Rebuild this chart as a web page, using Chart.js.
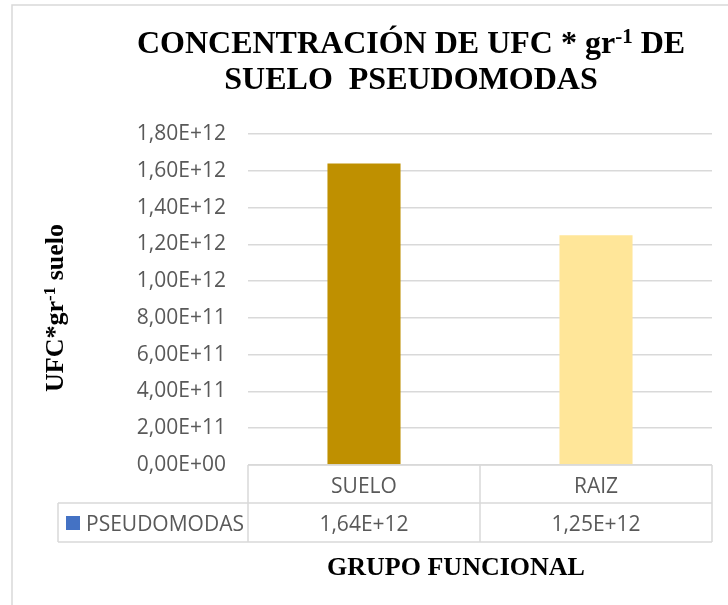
<!DOCTYPE html>
<html>
<head>
<meta charset="utf-8">
<script src="https://cdn.jsdelivr.net/npm/chart.js@4/dist/chart.umd.min.js"></script>
<style>
  html, body { margin: 0; padding: 0; background: #ffffff; }
  #wrap { width: 728px; height: 605px; position: relative; }
</style>
</head>
<body>
<div id="wrap"><canvas id="c" width="728" height="605"></canvas></div>
<script>
// ---- data ----
const categories = ['SUELO', 'RAIZ'];
const seriesName = 'PSEUDOMODAS';
const values = [1.64e12, 1.25e12];
const barColors = ['#BF9000', '#FFE699'];
const legendColor = '#4472C4';
const yMin = 0;
const yMax = 1.8e12;
const yStep = 0.2e12;
const titleLine1 = [{ t: 'CONCENTRACIÓN DE UFC * gr' }, { t: '-1', sup: true }, { t: ' DE' }];
const titleLine2 = [{ t: 'SUELO  PSEUDOMODAS' }];
const yTitle = [{ t: 'UFC*gr' }, { t: '-1', sup: true }, { t: ' suelo' }];
const xTitle = 'GRUPO FUNCIONAL';

// ---- helpers ----
function sci(v) {
  if (Math.abs(v) < 1e-9) return '0,00E+00';
  let exp = Math.floor(Math.log10(Math.abs(v)) + 1e-9);
  let mant = v / Math.pow(10, exp);
  let m = mant.toFixed(2);
  if (parseFloat(m) >= 10) { exp += 1; m = (v / Math.pow(10, exp)).toFixed(2); }
  const es = (exp < 10 ? '0' : '') + exp;
  return m.replace('.', ',') + 'E+' + es;
}

const SERIF = "'Liberation Serif', 'Times New Roman', serif";
const SANS = "'Open Sans', 'DejaVu Sans', sans-serif";
const GRAY = '#595959';
const LINE = '#d9d9d9';
const TXT = 21;

function richWidth(ctx, parts, size) {
  let w = 0;
  parts.forEach(p => {
    ctx.font = 'bold ' + (p.sup ? Math.round(size * 0.65) : size) + 'px ' + SERIF;
    w += ctx.measureText(p.t).width;
  });
  return w;
}
function drawRich(ctx, parts, cx, baseline, size) {
  const w = richWidth(ctx, parts, size);
  let x = cx - w / 2;
  ctx.textAlign = 'left';
  ctx.textBaseline = 'alphabetic';
  parts.forEach(p => {
    const s = p.sup ? Math.round(size * 0.65) : size;
    ctx.font = 'bold ' + s + 'px ' + SERIF;
    ctx.fillText(p.t, x, p.sup ? baseline - size * 0.3 : baseline);
    x += ctx.measureText(p.t).width;
  });
}

const decor = {
  id: 'decor',
  beforeDraw(chart) {
    const ctx = chart.ctx;
    ctx.save();
    ctx.fillStyle = '#ffffff';
    ctx.fillRect(0, 0, chart.width, chart.height);
    ctx.strokeStyle = LINE;
    ctx.lineWidth = 1.5;
    ctx.strokeRect(12, 5, 900, 800);
    ctx.restore();
  },
  afterDraw(chart) {
    const ctx = chart.ctx;
    const area = chart.chartArea;
    const xs = chart.scales.x;
    ctx.save();
    ctx.fillStyle = '#000000';
    // title
    drawRich(ctx, titleLine1, 411, 53, 32);
    drawRich(ctx, titleLine2, 411, 89, 32);
    // x title
    ctx.font = 'bold 26px ' + SERIF;
    ctx.textAlign = 'center';
    ctx.textBaseline = 'alphabetic';
    ctx.fillText(xTitle, 456, 575);
    // y title
    ctx.save();
    ctx.translate(63, 308);
    ctx.rotate(-Math.PI / 2);
    drawRich(ctx, yTitle, 0, 0, 26);
    ctx.restore();

    // data table
    const n = categories.length;
    const catW = (area.right - area.left) / n;
    const centers = categories.map((c, i) => {
      const p = xs && isFinite(xs.getPixelForValue(i)) ? xs.getPixelForValue(i) : area.left + catW * (i + 0.5);
      return p;
    });
    const bounds = [area.left];
    for (let i = 0; i < n; i++) bounds.push(centers[i] + catW / 2);
    const rowTop = area.bottom;
    const rowMid = rowTop + 38;
    const rowBot = rowMid + 39;
    const legLeft = 58;
    ctx.strokeStyle = LINE;
    ctx.lineWidth = 1.5;
    ctx.beginPath();
    ctx.moveTo(area.left, rowTop); ctx.lineTo(bounds[n], rowTop);
    ctx.moveTo(legLeft, rowMid); ctx.lineTo(bounds[n], rowMid);
    ctx.moveTo(legLeft, rowBot); ctx.lineTo(bounds[n], rowBot);
    bounds.forEach(b => { ctx.moveTo(b, rowTop); ctx.lineTo(b, rowBot); });
    ctx.moveTo(legLeft, rowMid); ctx.lineTo(legLeft, rowBot);
    ctx.stroke();

    ctx.fillStyle = GRAY;
    ctx.font = TXT + 'px ' + SANS;
    ctx.textAlign = 'center';
    ctx.textBaseline = 'alphabetic';
    categories.forEach((c, i) => ctx.fillText(c, centers[i], rowTop + 28));
    values.forEach((v, i) => ctx.fillText(sci(v), centers[i], rowMid + 28));
    // legend key
    ctx.fillStyle = legendColor;
    ctx.fillRect(66, rowMid + 13, 14, 14);
    ctx.fillStyle = GRAY;
    ctx.textAlign = 'left';
    ctx.fillText(seriesName, 86, rowMid + 28);
    ctx.restore();
  }
};

new Chart(document.getElementById('c'), {
  type: 'bar',
  data: {
    labels: categories,
    datasets: [{
      label: seriesName,
      data: values,
      backgroundColor: barColors,
      borderWidth: 0,
      categoryPercentage: 1,
      barPercentage: 0.315
    }]
  },
  options: {
    responsive: false,
    animation: false,
    devicePixelRatio: 1,
    layout: { padding: { top: 134, bottom: 140, right: 16, left: 0 } },
    plugins: {
      legend: { display: false },
      title: { display: false },
      tooltip: { enabled: false }
    },
    scales: {
      x: { display: false },
      y: {
        min: yMin,
        max: yMax,
        afterFit(s) { s.width = 248; },
        ticks: {
          stepSize: yStep,
          color: GRAY,
          font: { family: SANS, size: TXT },
          padding: 22,
          callback: v => sci(v)
        },
        grid: { color: LINE, lineWidth: 1.5, drawTicks: false },
        border: { display: false }
      }
    }
  },
  plugins: [decor]
});
</script>
</body>
</html>
